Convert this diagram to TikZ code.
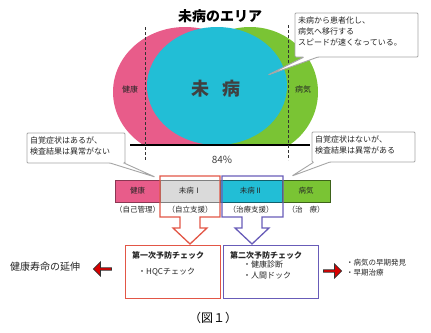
\documentclass[tikz,border=0pt]{standalone}
\usepackage{fontspec}
\newfontfamily\jp{Noto Sans CJK JP}
\usetikzlibrary{shapes.geometric, shapes.arrows, arrows}
\usetikzlibrary{positioning}
\usetikzlibrary{arrows.meta}
\usetikzlibrary{backgrounds}
\definecolor{kenkopink}{RGB}{232,92,138}
\definecolor{mibyoucyan}{RGB}{34,190,214}
\definecolor{byoukigreen}{RGB}{122,196,52}
\definecolor{stagegray}{RGB}{218,218,218}
\definecolor{redline}{RGB}{226,86,70}
\definecolor{blueline}{RGB}{104,92,184}

\begin{document}
\begin{tikzpicture}[
    x=1pt, y=-1pt, font=\jp,
    % area styles
    area label/.style={font=\jp\fontsize{8}{9}\selectfont, text=black!85},
    callout/.style={draw=black!35, fill=white, line width=0.9pt, rounded corners=1pt},
    callout text/.style={
        font=\jp\fontsize{8}{11}\selectfont,
        align=left,
        text=black!85,
        inner sep=0pt
    },
    % stage row styles
    stage box/.style={
        minimum height=22pt,
        inner sep=0pt,
        line width=1pt,
        font=\jp\fontsize{7.5}{8}\selectfont,
        text=black!85
    },
    stage note/.style={font=\jp\fontsize{7.5}{8}\selectfont, text=black!85},
    % check box styles
    check box/.style={
        minimum width=95pt,
        minimum height=53pt,
        line width=1.2pt,
        fill=white,
        inner sep=0pt
    },
    check text/.style={
        font=\jp\fontsize{8}{11}\selectfont,
        text=black!85,
        inner sep=0pt,
        align=left
    },
    fat arrow/.style={
        single arrow,
        draw=black!80,
        fill=red!85!black,
        minimum height=18pt,
        minimum width=14pt,
        single arrow head extend=2pt,
        inner sep=0pt,
        line width=0.8pt
    }
]
\useasboundingbox (0,0) rectangle (431,332);

% -------------------------------
% Title
\node[font=\jp\bfseries\fontsize{14}{16}\selectfont] (title) at (220,16) {未病のエリア};

% -------------------------------
% Areas
\begin{scope}
    \clip (0,0) rectangle (431,145);
    \fill[kenkopink] (185,92) ellipse [x radius=72, y radius=65];
    \fill[byoukigreen] (250,92) ellipse [x radius=68, y radius=65];
\end{scope}
\fill[mibyoucyan] (217,86) ellipse [x radius=70, y radius=59];

\coordinate (line-left) at (130,145);
\coordinate (line-right) at (310,145);
\draw[line width=1.3pt] (line-left) -- (line-right);

\coordinate (border-1-top) at (145,27);
\coordinate (border-1-bottom) at (145,160);
\coordinate (border-2-top) at (288,25);
\coordinate (border-2-bottom) at (288,160);
\draw[densely dashed, line width=0.8pt, black!80] (border-1-top) -- (border-1-bottom);
\draw[densely dashed, line width=0.8pt, black!80] (border-2-top) -- (border-2-bottom);

\node[area label] (area-kenko) at (130,89) {健康};
\node[font=\jp\bfseries\fontsize{18}{20}\selectfont, text=black!75] (area-mibyou) at (216,89) {未\hspace{13pt}病};
\node[area label] (area-byouki) at (303,89) {病気};

\node[font=\jp\fontsize{10}{12}\selectfont, text=black!75] (ratio) at (222,160) {84\%};

% -------------------------------
% Callouts
\draw[callout] (295,13) -- (418,13) -- (418,57) -- (318,57) -- (268,75)
    -- (304,57) -- (295,57) -- cycle;
\node[callout text, anchor=north west] (note-speed) at (298,17)
    {未病から患者化し、\\病気へ移行する\\スピードが速くなっている。};

\draw[callout] (27,133) -- (125,133) -- (125,163) -- (124,163) -- (155,177)
    -- (110,163) -- (27,163) -- cycle;
\node[callout text, anchor=north west] (note-left) at (30,137)
    {自覚症状はあるが、\\検査結果は異常がない};

\draw[callout] (312,132) -- (415,132) -- (415,162) -- (330,162) -- (292,176)
    -- (314,162) -- (312,162) -- cycle;
\node[callout text, anchor=north west] (note-right) at (315,136)
    {自覚症状はないが、\\検査結果は異常がある};

% -------------------------------
% Stage row
\node[stage box, fill=kenkopink, draw=kenkopink!60!black, minimum width=45pt] (stage-1) at (137.5,191) {健康};
\node[stage box, fill=stagegray, draw=black!50, minimum width=60pt] (stage-2) at (190,191) {未病Ⅰ};
\node[stage box, fill=mibyoucyan, draw=mibyoucyan!50!black, minimum width=62pt] (stage-3) at (251,191) {未病Ⅱ};
\node[stage box, fill=byoukigreen, draw=byoukigreen!50!black, minimum width=48pt] (stage-4) at (306,191) {病気};

\node[stage note] (note-1) at (137.5,210) {（自己管理）};
\node[stage note] (note-2) at (190,210) {（自立支援）};
\node[stage note] (note-3) at (251,210) {（治療支援）};
\node[stage note] (note-4) at (306,210) {（治\hspace{7pt}療）};

% -------------------------------
% Funnels
\draw[redline, line width=1.3pt, line join=miter] (160,176) -- (220,176) -- (220,217)
    -- (200,217) -- (200,228) -- (207,228) -- (190,244) -- (173,228)
    -- (180,228) -- (180,217) -- (160,217) -- cycle;
\draw[blueline, line width=1.3pt, line join=miter] (222,176) -- (283,176) -- (283,217)
    -- (262,217) -- (262,228) -- (269,228) -- (252,244) -- (235,228)
    -- (242,228) -- (242,217) -- (222,217) -- cycle;

% -------------------------------
% Check boxes
\node[check box, draw=redline, anchor=north west] (check-1) at (125,245) {};
\node[check text, font=\jp\bfseries\fontsize{8}{11}\selectfont, anchor=west] (check-1-title) at (132,255) {第一次予防チェック};
\node[check text, anchor=west] (check-1-item) at (138,272) {・HQCチェック};

\node[check box, draw=blueline, anchor=north west] (check-2) at (223,245) {};
\node[check text, font=\jp\bfseries\fontsize{8}{11}\selectfont, anchor=west] (check-2-title) at (230,255) {第二次予防チェック};
\node[check text, anchor=west] (check-2-item) at (243,270) {・健康診断\\・人間ドック};

% -------------------------------
% Results
\node[fat arrow, shape border rotate=180] (arrow-left) at (103,269) {};
\node[font=\jp\fontsize{10}{12}\selectfont, text=black!85] (result-left) at (45,267) {健康寿命の延伸};

\node[fat arrow] (arrow-right) at (332,271) {};
\node[check text, font=\jp\fontsize{7.5}{10}\selectfont, anchor=west] (result-right) at (346,268)
    {・病気の早期発見\\・早期治療};

% -------------------------------
% Caption
\node[font=\jp\fontsize{12}{14}\selectfont] (caption) at (213,318) {（図１）};
\end{tikzpicture}
\end{document}
